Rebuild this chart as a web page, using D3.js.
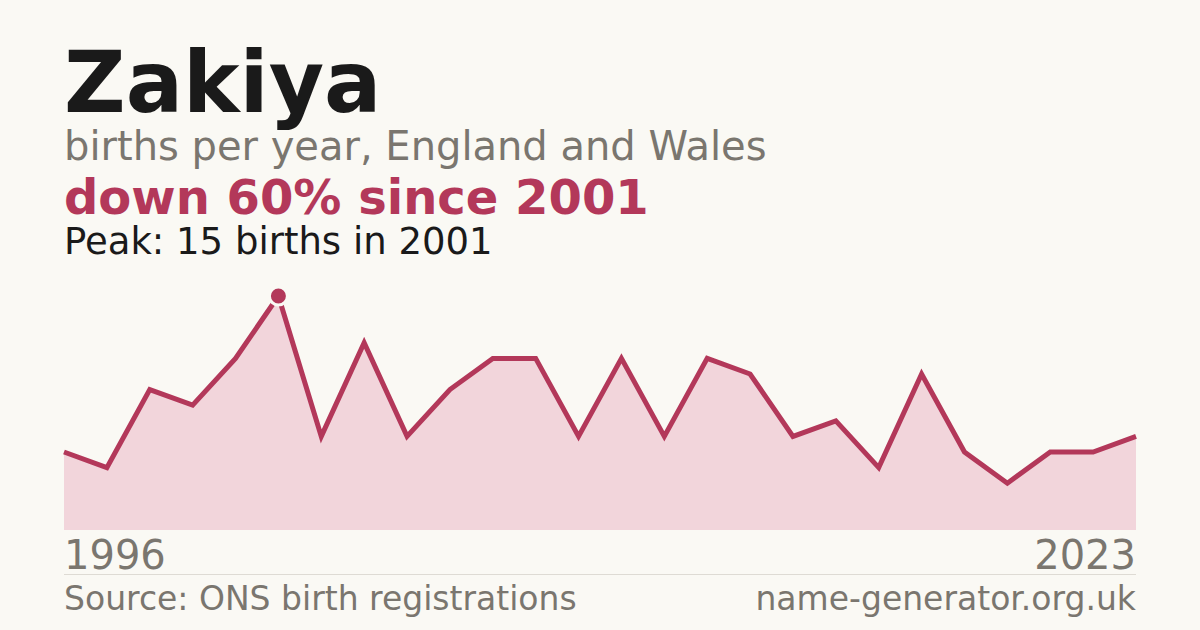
<!DOCTYPE html>
<html>
<head>
	<meta charset="utf-8">
	<title>Zakiya</title>
	<script src="https://d3js.org/d3.v7.min.js"></script>
	<style type="text/css">
		*
		{
			margin:0;
			padding:0;
		}
		body
		{
			background:#faf9f4;
			width:1200px;
			height:630px;
			overflow:hidden;
			font-family:"DejaVu Sans", sans-serif;
		}
	</style>
</head>
<body>
	<div id="chart"></div>
	<script>
		// counts; two years have no published count
		const years = [1996, 1997, 1998, 1999, 2000, 2001, 2002, 2003, 2004, 2005, 2006, 2007, 2009,
			2010, 2011, 2012, 2013, 2014, 2015, 2017, 2018, 2019, 2020, 2021, 2022, 2023];
		const births = [5, 4, 9, 8, 11, 15, 6, 12, 6, 9, 11, 11, 6,
			11, 6, 11, 10, 6, 7, 4, 10, 5, 3, 5, 5, 6];
		const axisLabels = ["1996", "2023"];

		const width = 1200;
		const height = 630;
		const left = 64;
		const right = 1136;
		const red = "#b3385a";
		const grey = "#7a766f";

		const svg = d3.select("#chart").append("svg")
			.attr("width", width)
			.attr("height", height);

		const xScale = d3.scalePoint().domain(years).range([left, right]);
		const yScale = d3.scaleLinear().domain([0, d3.max(births)]).range([530, 296]);

		const points = years.map((y, i) => [y, births[i]]);

		svg.append("path")
			.datum(points)
			.attr("fill", "#f2d5db")
			.attr("d", d3.area().x(d => xScale(d[0])).y0(yScale(0)).y1(d => yScale(d[1])));

		svg.append("path")
			.datum(points)
			.attr("fill", "none")
			.attr("stroke", red)
			.attr("stroke-width", 5)
			.attr("stroke-linejoin", "miter")
			.attr("d", d3.line().x(d => xScale(d[0])).y(d => yScale(d[1])));

		const peak = d3.greatestIndex(births);
		svg.append("circle")
			.attr("cx", xScale(years[peak]))
			.attr("cy", yScale(births[peak]))
			.attr("r", 9)
			.attr("fill", red)
			.attr("stroke", "#faf9f4")
			.attr("stroke-width", 3);

		// titles
		svg.append("text").text("Zakiya")
			.attr("x", left).attr("y", 112)
			.attr("font-size", 85).attr("font-weight", "bold").attr("fill", "#1a1a1a");
		svg.append("text").text("births per year, England and Wales")
			.attr("x", left).attr("y", 160)
			.attr("font-size", 40).attr("fill", grey);
		const first = births[peak], last = births[births.length - 1];
		svg.append("text").text("down " + Math.round((first - last) / first * 100) + "% since " + years[peak])
			.attr("x", left).attr("y", 214)
			.attr("font-size", 48).attr("font-weight", "bold").attr("fill", red);
		svg.append("text").text("Peak: " + first + " births in " + years[peak])
			.attr("x", left).attr("y", 254)
			.attr("font-size", 37).attr("fill", "#1a1a1a");

		// axis end labels
		svg.append("text").text(axisLabels[0])
			.attr("x", left).attr("y", 569)
			.attr("font-size", 40).attr("fill", grey);
		svg.append("text").text(axisLabels[1])
			.attr("x", right).attr("y", 569)
			.attr("text-anchor", "end")
			.attr("font-size", 40).attr("fill", grey);

		svg.append("line")
			.attr("x1", left).attr("x2", right)
			.attr("y1", 574.5).attr("y2", 574.5)
			.attr("stroke", "#dedbd4").attr("stroke-width", 1);

		svg.append("text").text("Source: ONS birth registrations")
			.attr("x", left).attr("y", 610)
			.attr("font-size", 33).attr("fill", grey);
		svg.append("text").text("name-generator.org.uk")
			.attr("x", right).attr("y", 610)
			.attr("text-anchor", "end")
			.attr("font-size", 33).attr("fill", grey);
	</script>
</body>
</html>
